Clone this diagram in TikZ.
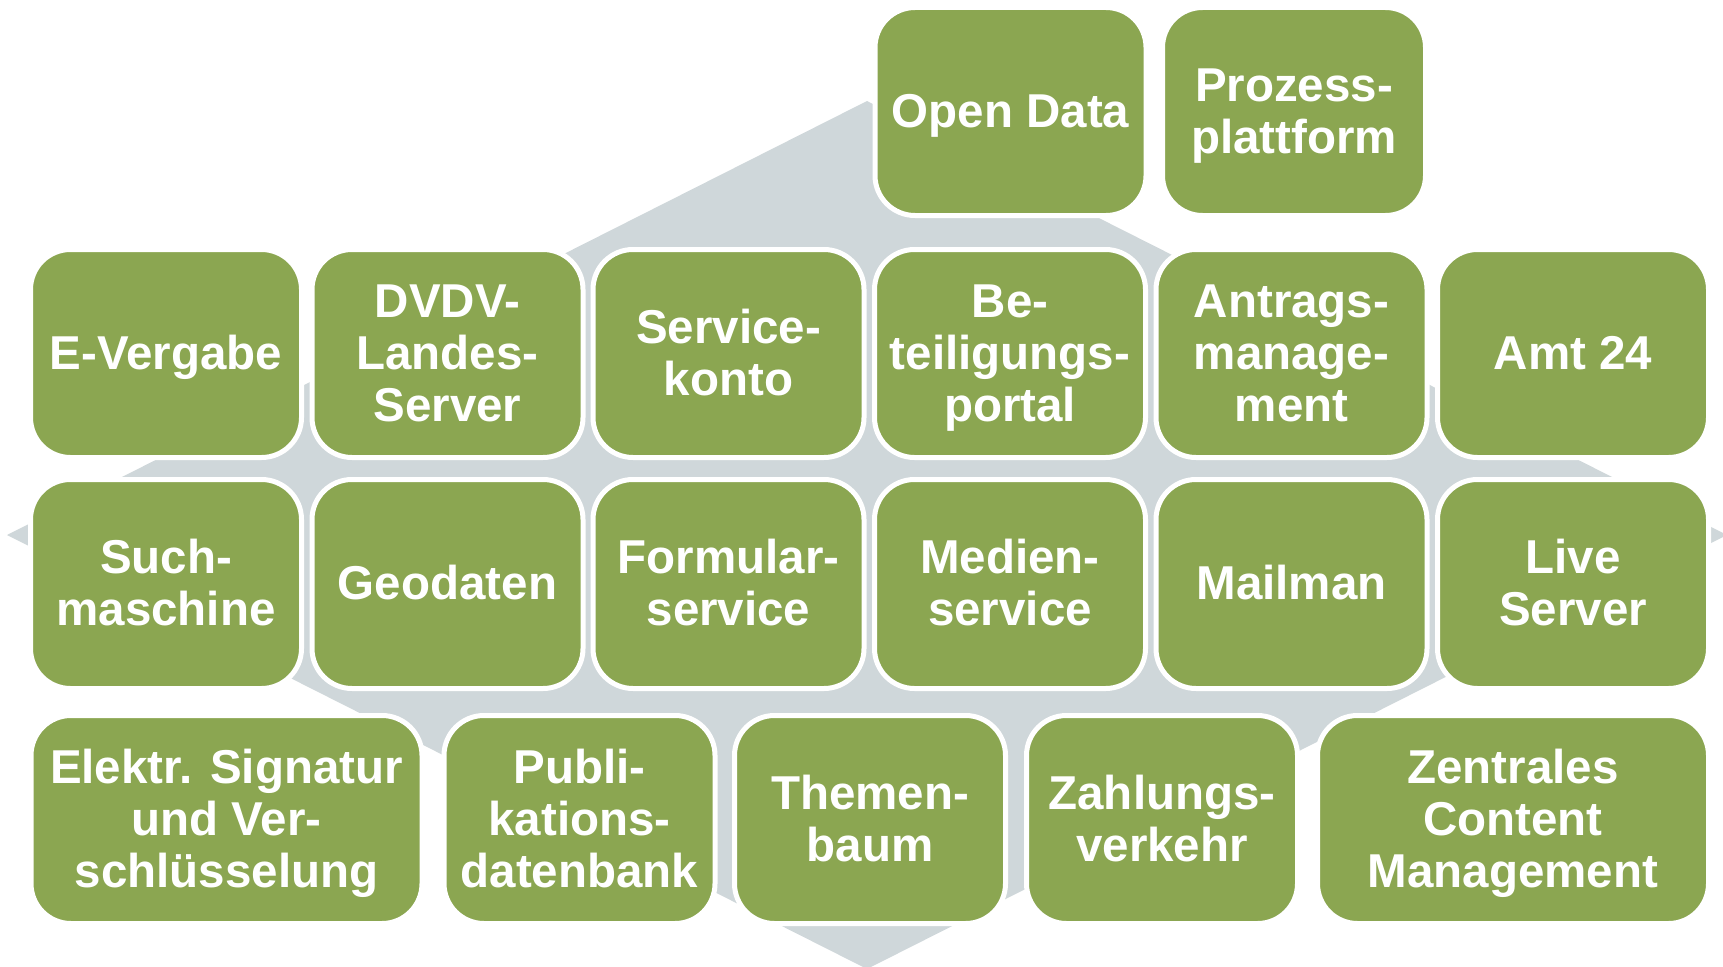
\documentclass[tikz,border=0pt]{standalone}
\usepackage{fontspec}
\setmainfont{Liberation Sans}
\definecolor{boxgreen}{RGB}{139,166,81}
\definecolor{diagray}{RGB}{207,215,218}
\setlength{\lineskiplimit}{-100pt}
\newcommand\tstrut{\rule[-11pt]{0pt}{53pt}}
\tikzset{
  tile/.style={draw=white, line width=5pt, fill=boxgreen, rounded corners=40pt,
    text=white, align=center, inner sep=0pt,
    font=\fontsize{47.5}{52}\selectfont\bfseries},
  narrow/.style={tile, minimum width=271pt, minimum height=208pt},
  wide/.style={tile, minimum width=391pt, minimum height=208pt}
}
\begin{document}
\begin{tikzpicture}[x=1pt, y=-1pt]
\useasboundingbox (0,0) rectangle (1723,966);
\clip (0,0) rectangle (1723,966);
% background diamond
\fill[diagray] (7,535) -- (867,101) -- (1727,535) -- (867,969) -- cycle;
% row 0
\node[narrow] (opendata) at (1010.5,111.5) {\tstrut Open Data};
\node[narrow, minimum width=263pt] (prozess) at (1294,111.5) {\tstrut Prozess-\\\tstrut plattform};
% row 1
\node[narrow] (evergabe) at (166,353.5) {\tstrut E-Vergabe};
\node[narrow] (dvdv) at (447.5,353.5) {\tstrut DVDV-\\\tstrut Landes-\\\tstrut Server};
\node[narrow] (servicekonto) at (728.5,353.5) {\tstrut Service-\\\tstrut konto};
\node[narrow] (beteiligung) at (1010,353.5) {\tstrut Be-\\\tstrut teiligungs-\\\tstrut portal};
\node[narrow] (antrag) at (1291.5,353.5) {\tstrut Antrags-\\\tstrut manage-\\\tstrut ment};
\node[narrow] (amt) at (1573,353.5) {\tstrut Amt 24};
% row 2
\node[narrow, minimum height=209pt] (such) at (166,584) {\tstrut Such-\\\tstrut maschine};
\node[narrow, minimum height=209pt] (geo) at (447.5,584) {\tstrut Geodaten};
\node[narrow, minimum height=209pt] (formular) at (728.5,584) {\tstrut Formular-\\\tstrut service};
\node[narrow, minimum height=209pt] (medien) at (1010,584) {\tstrut Medien-\\\tstrut service};
\node[narrow, minimum height=209pt] (mailman) at (1291.5,584) {\tstrut Mailman};
\node[narrow, minimum height=209pt] (live) at (1573,584) {\tstrut Live\\\tstrut Server};
% row 3
\node[wide] (signatur) at (226.5,819.5) {\tstrut Elektr. Signatur\\\tstrut und Ver-\\\tstrut schlüsselung};
\node[narrow] (publi) at (579.5,819.5) {\tstrut Publi-\\\tstrut kations-\\\tstrut datenbank};
\node[narrow] (themen) at (870,819.5) {\tstrut Themen-\\\tstrut baum};
\node[narrow] (zahlung) at (1162,819.5) {\tstrut Zahlungs-\\\tstrut verkehr};
\node[wide] (cms) at (1513,819.5) {\tstrut Zentrales\\\tstrut Content\\\tstrut Management};
\end{tikzpicture}
\end{document}
